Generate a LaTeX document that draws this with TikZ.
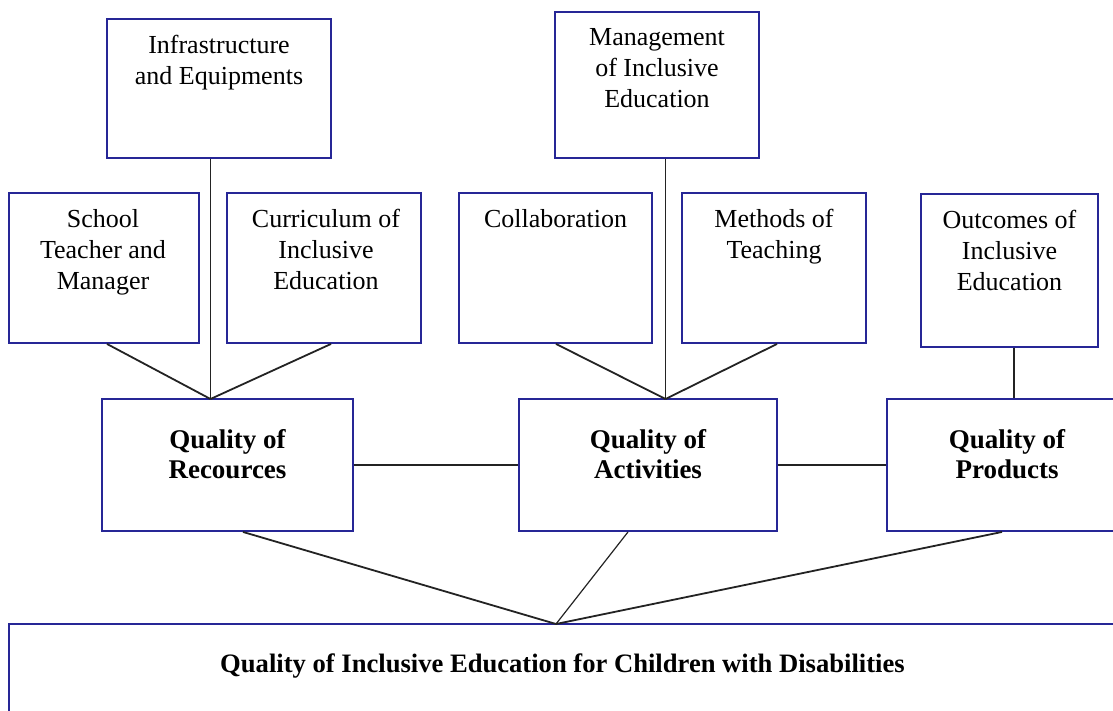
\documentclass[tikz,border=0pt]{standalone}
\usepackage{fontspec}
\setmainfont{Liberation Serif}
\definecolor{boxblue}{RGB}{38,38,150}
\definecolor{linegray}{RGB}{35,35,35}
\tikzset{
  box/.style={draw=boxblue, line width=1.9pt, rectangle, inner sep=0pt, fill=white},
  txt/.style={anchor=north, align=center, inner sep=0pt, font=\fontsize{26}{31}\selectfont},
  btxt/.style={txt, font=\fontsize{27}{30}\selectfont\bfseries},
  conn/.style={draw=linegray, line width=1.8pt}
}
\begin{document}
\begin{tikzpicture}[x=1pt, y=-1pt]
\useasboundingbox (0,0) rectangle (1113,711);
\clip (0,0) rectangle (1113,711);
% top level boxes
\node[box, minimum width=224pt, minimum height=139pt] (inf) at (219,88.5) {};
\node[box, minimum width=204pt, minimum height=146pt] (mgmt) at (657,85) {};
% second level
\node[box, minimum width=190pt, minimum height=150pt] (school) at (104,268) {};
\node[box, minimum width=194pt, minimum height=150pt] (curr) at (324,268) {};
\node[box, minimum width=193pt, minimum height=150pt] (collab) at (555.5,268) {};
\node[box, minimum width=184pt, minimum height=150pt] (meth) at (774,268) {};
\node[box, minimum width=177pt, minimum height=153pt] (outc) at (1009.5,270.5) {};
% quality boxes
\node[box, minimum width=251pt, minimum height=132pt] (qres) at (227.5,465) {};
\node[box, minimum width=258pt, minimum height=132pt] (qact) at (648,465) {};
\node[box, minimum width=240pt, minimum height=132pt] (qprod) at (1007,465) {};
% bottom box
\node[box, minimum width=1107pt, minimum height=116pt] (qie) at (562.5,682) {};
% coordinates
\coordinate (presA) at (210.5,399);
\coordinate (pactA) at (665.5,399);
\coordinate (pbot) at (556,624);
% connectors
\draw[conn] (inf.south -| presA) -- (presA);
\draw[conn] ([xshift=3pt]school.south) -- (presA);
\draw[conn] ([xshift=7pt]curr.south) -- (presA);
\draw[conn] (mgmt.south -| pactA) -- (pactA);
\draw[conn] ([xshift=0.5pt]collab.south) -- (pactA);
\draw[conn] ([xshift=3pt]meth.south) -- (pactA);
\draw[conn] ([xshift=4.5pt]outc.south) -- ([xshift=4.5pt]outc.south |- qprod.north);
\draw[conn] (qres.east) -- (qact.west);
\draw[conn] (qact.east) -- (qprod.west);
\draw[conn] ([xshift=15.5pt]qres.south) -- (pbot);
\draw[conn, line width=1.2pt] ([xshift=-20pt]qact.south) -- (pbot);
\draw[conn] ([xshift=-5pt]qprod.south) -- (pbot);
% texts
\node[txt] (tinf) at ([yshift=-13.3pt]inf.north) {\strut Infrastructure\\and Equipments};
\node[txt] (tmgmt) at ([yshift=-12.3pt]mgmt.north) {\strut Management\\of Inclusive\\Education};
\node[txt] (tschool) at ([xshift=-1pt, yshift=-13.3pt]school.north) {\strut School\\Teacher and\\Manager};
\node[txt] (tcurr) at ([xshift=2pt, yshift=-13.3pt]curr.north) {\strut Curriculum of\\Inclusive\\Education};
\node[txt] (tcollab) at ([yshift=-13.3pt]collab.north) {\strut Collaboration};
\node[txt] (tmeth) at ([yshift=-13.3pt]meth.north) {\strut Methods of\\Teaching};
\node[txt] (toutc) at ([yshift=-13.3pt]outc.north) {\strut Outcomes of\\Inclusive\\Education};
\node[btxt] (tqres) at ([yshift=-29pt]qres.north) {\strut Quality of\\Recources};
\node[btxt] (tqact) at ([yshift=-29pt]qact.north) {\strut Quality of\\Activities};
\node[btxt] (tqprod) at ([yshift=-29pt]qprod.north) {\strut Quality of\\Products};
\node[btxt, font=\fontsize{26.6}{30}\selectfont\bfseries] (tqie) at ([yshift=-28pt]qie.north) {\strut Quality of Inclusive Education for Children with Disabilities};
\end{tikzpicture}
\end{document}
